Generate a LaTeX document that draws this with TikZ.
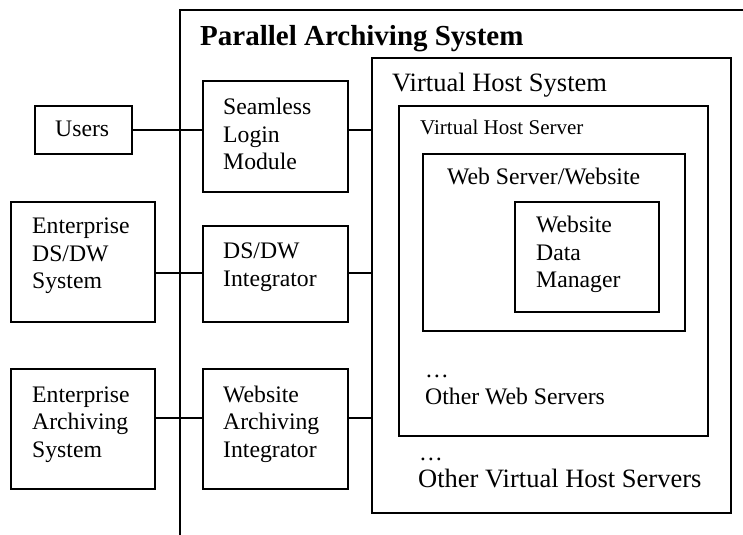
\documentclass[tikz,border=0pt]{standalone}
\usepackage{fontspec}
\setmainfont{Liberation Serif}
\begin{document}
\begin{tikzpicture}[x=1bp,y=-1bp,
  box/.style={draw,line width=1.7bp,rectangle,inner sep=0pt},
  wire/.style={line width=1.7bp},
  txt/.style={anchor=base west,inner sep=0pt,align=left,
    font=\fontsize{23.7bp}{27.5bp}\selectfont},
  bigtxt/.style={anchor=base west,inner sep=0pt,align=left,
    font=\fontsize{26.5bp}{29bp}\selectfont},
  smalltxt/.style={anchor=base west,inner sep=0pt,
    font=\fontsize{21bp}{25bp}\selectfont}]
\useasboundingbox (0,0) rectangle (743,535);

% open frame of the archiving system
\coordinate (frameR) at (750,10);
\coordinate (frameB) at (180,545);
\draw[wire] (frameR) -- (180,10) -- (frameB);
\node[anchor=base west,inner sep=0pt,font=\fontsize{29bp}{32bp}\selectfont\bfseries]
  (title) at (200,46) {Parallel Archiving System};

% outside systems
\node[box,minimum width=97bp,minimum height=48bp] (users) at (83.5,130) {};
\node[txt] (usersT) at (55,137) {Users};
\node[box,minimum width=144bp,minimum height=120bp] (eds) at (83,262) {};
\node[box,minimum width=144bp,minimum height=120bp] (eas) at (83,429) {};

% integration modules
\node[box,minimum width=145bp,minimum height=111bp] (slm) at (275.5,136.5) {};
\node[box,minimum width=145bp,minimum height=96bp] (dsi) at (275.5,274) {};
\node[box,minimum width=145bp,minimum height=120bp] (wai) at (275.5,429) {};

% nested host boxes
\node[box,minimum width=359bp,minimum height=455bp] (vhs) at (551.5,285.5) {};
\node[box,minimum width=309bp,minimum height=330bp] (vhsrv) at (553.5,271) {};
\node[box,minimum width=262bp,minimum height=177bp] (web) at (554,242.5) {};
\node[box,minimum width=144bp,minimum height=110bp] (wdm) at (587,257) {};

% box labels, one baseline per line
\node[txt] (edsA) at (32,234) {Enterprise};
\node[txt] (edsB) at (32,261.5) {DS/DW};
\node[txt] (edsC) at (32,289) {System};
\node[txt] (easA) at (32,402) {Enterprise};
\node[txt] (easB) at (32,429.5) {Archiving};
\node[txt] (easC) at (32,457) {System};
\node[txt] (slmA) at (223,115) {Seamless};
\node[txt] (slmB) at (223,142.5) {Login};
\node[txt] (slmC) at (223,170) {Module};
\node[txt] (dsiA) at (223,259) {DS/DW};
\node[txt] (dsiB) at (223,286.5) {Integrator};
\node[txt] (waiA) at (223,402) {Website};
\node[txt] (waiB) at (223,429.5) {Archiving};
\node[txt] (waiC) at (223,457) {Integrator};
\node[bigtxt] (vhsT) at (392,92) {Virtual Host System};
\node[smalltxt] (vhsrvT) at (420,135) {Virtual Host Server};
\node[txt] (webT) at (447,185) {Web Server/Website};
\node[txt] (wdmA) at (536,233) {Website};
\node[txt] (wdmB) at (536,260.5) {Data};
\node[txt] (wdmC) at (536,288) {Manager};
\node[txt] (dotsA) at (425,377) {…};
\node[txt] (otherWeb) at (425,404) {Other Web Servers};
\node[txt] (dotsB) at (419,460) {…};
\node[bigtxt] (otherVh) at (418,487) {Other Virtual Host Servers};

% connectors
\coordinate (rowA) at (0,130);
\coordinate (rowB) at (0,273);
\coordinate (rowC) at (0,418);
\draw[wire] (users.east) -- (slm.west |- rowA);
\draw[wire] (slm.east |- rowA) -- (vhs.west |- rowA);
\draw[wire] (eds.east |- rowB) -- (dsi.west |- rowB);
\draw[wire] (dsi.east |- rowB) -- (vhs.west |- rowB);
\draw[wire] (eas.east |- rowC) -- (wai.west |- rowC);
\draw[wire] (wai.east |- rowC) -- (vhs.west |- rowC);
\end{tikzpicture}
\end{document}
